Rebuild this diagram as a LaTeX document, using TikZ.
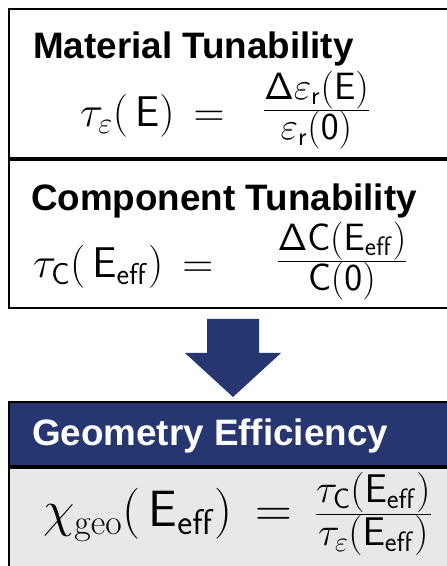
\RequirePackage{fix-cm}
\documentclass[tikz,border=0pt]{standalone}
\usepackage[no-math]{fontspec}
\usepackage{amsmath}
\newfontfamily\headfont{Liberation Sans}
\usetikzlibrary{positioning, calc}

\definecolor{navy}{RGB}{38,54,112}
\definecolor{bodygrey}{RGB}{232,232,232}

\newcommand{\sE}{\mathsf{E}}
\newcommand{\Eff}{\mathsf{E}_{\mathsf{eff}}}
% fraction: lift, font size, numerator, denominator
\newcommand{\liftfrac}[4]{\raisebox{#1}{\fontsize{#2}{#2}\selectfont$\frac{\textstyle #3}{\textstyle #4}$}}

\tikzset{
  panel/.style={draw=black, line width=2pt, anchor=north west, inner sep=0pt, minimum width=470pt},
  heading/.style={anchor=base west, inner sep=0pt, font=\headfont\bfseries\fontsize{36.8}{40}\selectfont},
  formula/.style={anchor=base west, inner sep=0pt, font=\fontsize{#1}{#1}\selectfont},
}

\begin{document}
\begin{tikzpicture}[x=1pt, y=1pt]
    \useasboundingbox (0,0) rectangle (447,566);
    \clip (0,0) rectangle (447,566);

    % the two tunability boxes
    \node[panel, minimum height=149pt] (matbox) at (8,558) {};
    \node[panel, minimum height=148pt] (compbox) at (matbox.south west) {};
    \node[heading] (mattitle) at (33,507) {Material Tunability};
    \node[formula=43] (matform) at (80,439)
        {$\tau_{\varepsilon}(\,\sE) \,= \mkern11mu \liftfrac{7.5pt}{38}{\mathsf{\Delta}\varepsilon_{\mathsf{r}}(\sE)}{\varepsilon_{\mathsf{r}}(\mathsf{0})}$};
    \node[heading] (comptitle) at (31,355) {Component Tunability};
    \node[formula=43] (compform) at (33,288)
        {$\tau_{\mathsf{C}}(\,\Eff) \,= \hspace{51pt} \liftfrac{7.5pt}{38}{\mathsf{\Delta C}(\Eff)}{\mathsf{C}(\mathsf{0})}$};

    % geometry efficiency box
    \node[panel, fill=navy, minimum height=64pt] (effhead) at (8,165) {};
    \node[panel, fill=bodygrey, minimum height=110pt] (effbody) at (effhead.south west) {};
    \node[heading, text=white] (efftitle) at (32,120) {Geometry Efficiency};
    \node[formula=51] (effform) at (43,39)
        {$\chi_{\mathrm{geo}}(\,\Eff) \,=\, \liftfrac{3pt}{40}{\tau_{\mathsf{C}}(\Eff)}{\tau_{\varepsilon}(\Eff)}$};

    % block arrow
    \coordinate (arrx) at (233,0);
    \coordinate (arrtop) at ($(compbox.south -| arrx)+(0,-10)$);
    \coordinate (arrtip) at ($(effhead.north -| arrx)+(0,4)$);
    \fill[navy] ($(arrtop)+(-26,0)$) -- ($(arrtop)+(26,0)$) -- ($(arrtip)+(26,44)$) -- ($(arrtip)+(48,44)$)
        -- (arrtip) -- ($(arrtip)+(-48,44)$) -- ($(arrtip)+(-26,44)$) -- cycle;
\end{tikzpicture}
\end{document}
